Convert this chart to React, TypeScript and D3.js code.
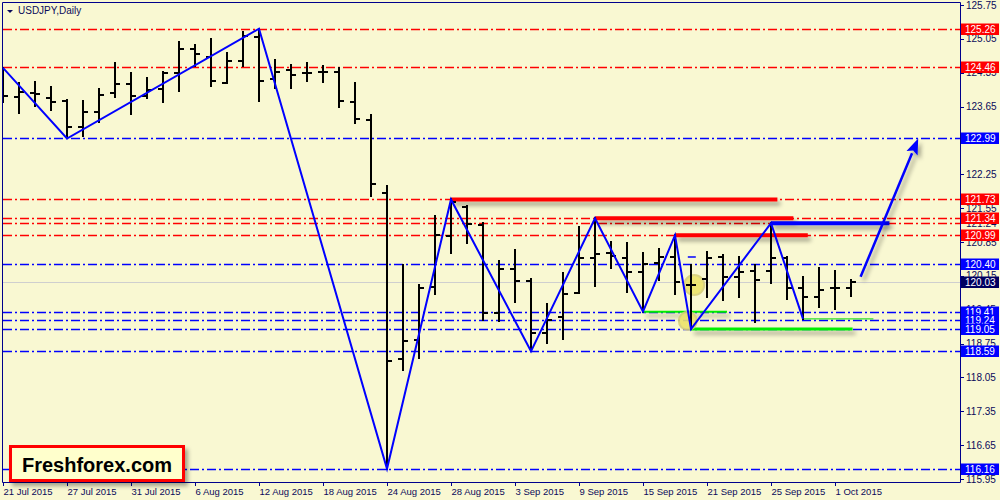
import { useEffect, useRef } from "react";
import * as d3 from "d3";

// daily bars, 21 Jul 2015 .. 2 Oct 2015
const opens = [
  124.2, 123.85, 123.93, 123.83, 123.77, 123.23, 123.54, 123.93, 124.12, 123.87,
  124.01, 124.34, 124.84, 124.67, 124.14, 124.59, 125.09, 124.22, 124.41, 124.34,
  124.36, 124.36, 123.74, 123.37, 121.86, 118.43, 118.82, 119.92, 120.97, 121.57,
  121.2, 119.38, 120.29, 120.04, 118.97, 119.3, 119.8, 120.52, 120.62, 120.52,
  120.23, 120.42, 120.54, 119.96, 120.09, 120.54, 120.13, 120.25, 120.25, 120.52,
  119.9, 119.71, 119.9, 119.9,
];
const highs = [
  124.45, 124.14, 124.16, 124.05, 123.79, 123.77, 124.01, 124.55, 124.34, 124.24,
  124.36, 124.99, 124.92, 125.05, 124.76, 125.19, 125.26, 124.61, 124.51, 124.55,
  124.49, 124.45, 124.14, 123.48, 122.01, 120.37, 119.96, 121.38, 121.73, 121.59,
  121.24, 120.46, 120.68, 120.08, 119.57, 120.21, 121.16, 121.34, 120.85, 120.83,
  120.62, 120.7, 120.99, 120.37, 120.64, 120.58, 120.54, 120.37, 121.24, 120.54,
  120.13, 120.31, 120.25, 120.06,
];
const lows = [
  123.74, 123.52, 123.66, 123.58, 122.99, 123.04, 123.33, 123.85, 123.5, 123.83,
  123.74, 123.97, 124.49, 124.08, 124.14, 124.49, 123.77, 124.03, 124.03, 124.18,
  124.16, 123.64, 123.31, 121.8, 116.16, 118.2, 118.45, 119.77, 120.62, 120.83,
  119.24, 119.22, 119.61, 118.59, 118.76, 118.84, 119.8, 119.94, 120.31, 119.82,
  119.41, 120.06, 119.77, 119.05, 119.71, 119.65, 119.71, 119.2, 120.0, 119.67,
  119.26, 119.51, 119.47, 119.73,
];
const closes = [
  123.87, 123.95, 123.91, 123.74, 123.23, 123.54, 123.89, 124.12, 123.87, 123.99,
  124.34, 124.84, 124.74, 124.18, 124.59, 125.11, 124.18, 124.36, 124.3, 124.34,
  124.36, 123.77, 123.39, 122.05, 118.39, 118.8, 119.9, 121.0, 121.68, 121.22,
  119.38, 120.29, 120.04, 118.97, 119.24, 119.77, 120.52, 120.6, 120.56, 120.23,
  120.39, 120.54, 120.02, 119.96, 120.52, 120.13, 120.23, 120.06, 120.52, 119.9,
  119.71, 119.86, 119.9, 120.03,
];

const dateLabels = [
  "21 Jul 2015", "27 Jul 2015", "31 Jul 2015", "6 Aug 2015", "12 Aug 2015",
  "18 Aug 2015", "24 Aug 2015", "28 Aug 2015", "3 Sep 2015", "9 Sep 2015",
  "15 Sep 2015", "21 Sep 2015", "25 Sep 2015", "1 Oct 2015",
];

const priceTicks = [
  125.75, 125.05, 124.35, 123.65, 122.95, 122.25, 121.55, 120.85, 120.15,
  119.45, 118.75, 118.05, 117.35, 116.65, 115.95,
];
const extraAxisLabels = [121.24];

const redLevels = [125.26, 124.46, 121.73, 121.34, 121.24, 120.99];
const redLabelLevels = [125.26, 124.46, 121.73, 121.34, 120.99];
const blueLevels = [122.99, 120.4, 119.41, 119.24, 119.05, 118.59, 116.16];
const bidPrice = 120.03;

// zigzag: bar index, price
const zigIdx = [0, 4, 16, 24, 28, 33, 37, 40, 42, 43, 48, 50];
const zigPrice = [124.45, 122.99, 125.26, 116.16, 121.73, 118.59, 121.34, 119.41, 120.99, 119.05, 121.24, 119.26];

// thick level segments: from bar, to bar, price
const segFrom = [28, 37, 42, 48, 40, 43, 50];
const segTo = [48.4, 49.4, 50.3, 55.4, 45.25, 53.1, 54.4];
const segPrice = [121.73, 121.34, 120.99, 121.24, 119.41, 119.05, 119.26];
const segColor = ["#ff0000", "#ff0000", "#ff0000", "#0000ff", "#00ee00", "#00ee00", "#00dd00"];
const segWidth = [4, 4, 4, 4, 2, 3, 1];

const arrowFrom = { i: 53.6, price: 120.13 };
const arrowTo = { i: 57.2, price: 122.99 };

export default function App() {
  const svgRef = useRef<SVGSVGElement>(null);

  useEffect(() => {
    document.body.style.margin = "0";
    if (!svgRef.current) return;
    const svg = d3.select(svgRef.current);
    svg.selectAll("*").remove();

    const bg = "#f9f8d2";
    const navy = "#00008c";
    const textCol = "#0a0a5a";
    const font = "'Liberation Sans', Arial, sans-serif";
    const axisX = 960;
    const plotBottom = 482;

    const x = d3.scaleLinear().domain([0, 1]).range([3, 19]);
    const y = d3.scaleLinear().domain([115.95, 125.75]).range([479, 5]);

    svg.append("rect").attr("width", 1000).attr("height", 500).attr("fill", bg);

    const defs = svg.append("defs");
    defs
      .append("clipPath")
      .attr("id", "plot-clip")
      .append("rect")
      .attr("x", 3)
      .attr("y", 3)
      .attr("width", axisX - 3)
      .attr("height", plotBottom - 3);
    const sh = defs
      .append("filter")
      .attr("id", "shadow")
      .attr("filterUnits", "userSpaceOnUse")
      .attr("x", 0)
      .attr("y", 0)
      .attr("width", 1000)
      .attr("height", 500);
    sh.append("feDropShadow")
      .attr("dx", 3)
      .attr("dy", 4)
      .attr("stdDeviation", 2)
      .attr("flood-color", "#000")
      .attr("flood-opacity", 0.35);

    const plot = svg.append("g").attr("clip-path", "url(#plot-clip)");

    // bid line
    plot
      .append("line")
      .attr("x1", 3)
      .attr("x2", axisX)
      .attr("y1", Math.round(y(bidPrice)) + 0.5)
      .attr("y2", Math.round(y(bidPrice)) + 0.5)
      .attr("stroke", "#cfcfcf");

    // dash-dot levels
    const levelLine = (vals: number[], color: string, w: number) =>
      plot
        .append("g")
        .selectAll("line")
        .data(vals)
        .enter()
        .append("line")
        .attr("x1", 3)
        .attr("x2", axisX)
        .attr("y1", (d) => Math.round(y(d)) + 0.5)
        .attr("y2", (d) => Math.round(y(d)) + 0.5)
        .attr("stroke", color)
        .attr("stroke-width", w)
        .attr("stroke-dasharray", "9,3,2,3");
    levelLine(redLevels, "#ff0000", 1.5);
    levelLine(blueLevels, "#0000ff", 1.5);

    // thick segments
    plot
      .append("g")
      .selectAll("line")
      .data(segPrice.map((p, k) => k))
      .enter()
      .append("line")
      .attr("x1", (k) => x(segFrom[k]))
      .attr("x2", (k) => x(segTo[k]))
      .attr("y1", (k) => y(segPrice[k]))
      .attr("y2", (k) => y(segPrice[k]))
      .attr("stroke", (k) => segColor[k])
      .attr("stroke-width", (k) => segWidth[k])
      .attr("filter", (k) => (segWidth[k] > 1 ? "url(#shadow)" : null));

    // trade markers
    const marks = [
      { i: 43.2, price: 119.96, r: 10 },
      { i: 42.8, price: 119.22, r: 9 },
    ];
    plot
      .append("g")
      .selectAll("circle")
      .data(marks)
      .enter()
      .append("circle")
      .attr("cx", (d) => x(d.i))
      .attr("cy", (d) => y(d.price))
      .attr("r", (d) => d.r)
      .attr("fill", "#ece46a")
      .attr("stroke", "#d6cf7a")
      .attr("stroke-width", 2)
      .attr("opacity", 0.9);
    plot
      .append("line")
      .attr("x1", x(42.8))
      .attr("x2", x(43.3))
      .attr("y1", y(120.54))
      .attr("y2", y(120.54))
      .attr("stroke", "#0000ff")
      .attr("stroke-width", 1.5);

    // OHLC bars
    const bars = plot.append("g").attr("stroke", "#000").attr("stroke-width", 2).attr("shape-rendering", "crispEdges");
    opens.forEach((o, i) => {
      const cx = x(i);
      bars.append("line").attr("x1", cx).attr("x2", cx).attr("y1", y(highs[i]) - 1).attr("y2", y(lows[i]) + 1);
      bars.append("line").attr("x1", cx - 5).attr("x2", cx).attr("y1", y(o)).attr("y2", y(o));
      bars.append("line").attr("x1", cx).attr("x2", cx + 5).attr("y1", y(closes[i])).attr("y2", y(closes[i]));
    });

    // zigzag
    const line = d3
      .line<number>()
      .x((k) => x(zigIdx[k]))
      .y((k) => y(zigPrice[k]));
    plot
      .append("path")
      .attr("d", line(zigIdx.map((_, k) => k)))
      .attr("fill", "none")
      .attr("stroke", "#0000ff")
      .attr("stroke-width", 2);

    // arrow
    const ax1 = x(arrowFrom.i), ay1 = y(arrowFrom.price);
    const ax2 = x(arrowTo.i), ay2 = y(arrowTo.price);
    const ang = Math.atan2(ay2 - ay1, ax2 - ax1);
    const hl = 16, hw = 6;
    const bx = ax2 - hl * Math.cos(ang), by = ay2 - hl * Math.sin(ang);
    const arrow = plot.append("g").attr("filter", "url(#shadow)");
    arrow
      .append("line")
      .attr("x1", ax1)
      .attr("y1", ay1)
      .attr("x2", bx)
      .attr("y2", by)
      .attr("stroke", "#0000ff")
      .attr("stroke-width", 2.5);
    arrow
      .append("path")
      .attr(
        "d",
        `M${ax2},${ay2}L${bx - hw * Math.sin(ang)},${by + hw * Math.cos(ang)}L${bx + 3 * Math.cos(ang)},${by + 3 * Math.sin(ang)}L${bx + hw * Math.sin(ang)},${by - hw * Math.cos(ang)}Z`
      )
      .attr("fill", "#0000ff");

    // frame
    svg
      .append("path")
      .attr("d", `M2.5,${plotBottom + 0.5}V2.5H${axisX + 0.5}V${plotBottom + 0.5}H2.5`)
      .attr("fill", "none")
      .attr("stroke", navy);

    // price axis ticks + labels
    const axis = svg.append("g");
    axis
      .selectAll("line")
      .data(priceTicks)
      .enter()
      .append("line")
      .attr("x1", axisX)
      .attr("x2", axisX + 4)
      .attr("y1", (d) => Math.round(y(d)) + 0.5)
      .attr("y2", (d) => Math.round(y(d)) + 0.5)
      .attr("stroke", navy);
    axis
      .selectAll("text")
      .data([...priceTicks, ...extraAxisLabels])
      .enter()
      .append("text")
      .attr("x", 966)
      .attr("y", (d) => y(d))
      .attr("dy", "0.35em")
      .attr("font-family", font)
      .attr("font-size", 10)
      .attr("fill", textCol)
      .text((d) => d.toFixed(2));

    // level label boxes
    const boxes = [
      ...redLabelLevels.map((p) => ({ p, c: "#ff0000" })),
      ...blueLevels.map((p) => ({ p, c: "#0000ff" })),
      { p: bidPrice, c: "#000060" },
    ].sort((a, b) => b.p - a.p);
    const bg2 = svg.append("g");
    boxes.forEach((b) => {
      const yy = Math.round(y(b.p));
      bg2.append("rect").attr("x", 961).attr("y", yy - 5.5).attr("width", 38).attr("height", 11.5).attr("fill", b.c);
      bg2
        .append("text")
        .attr("x", 965)
        .attr("y", yy)
        .attr("dy", "0.38em")
        .attr("font-family", font)
        .attr("font-size", 10)
        .attr("fill", "#fff")
        .text(b.p.toFixed(2));
    });

    // date axis
    const dAxis = svg.append("g");
    dateLabels.forEach((lab, k) => {
      const tx = Math.round(x(k * 4)) + 0.5;
      dAxis.append("line").attr("x1", tx).attr("x2", tx).attr("y1", plotBottom).attr("y2", plotBottom + 4).attr("stroke", navy);
      dAxis
        .append("text")
        .attr("x", tx)
        .attr("y", 495)
        .attr("font-family", font)
        .attr("font-size", 9.5)
        .attr("fill", textCol)
        .text(lab);
    });

    // title
    svg.append("path").attr("d", "M7,10H13L10,13Z").attr("fill", textCol);
    svg
      .append("text")
      .attr("x", 18)
      .attr("y", 14)
      .attr("font-family", font)
      .attr("font-size", 10)
      .attr("fill", textCol)
      .text("USDJPY,Daily");

    // watermark box
    const wm = svg.append("g");
    wm.append("rect")
      .attr("x", 10.5)
      .attr("y", 446.5)
      .attr("width", 173)
      .attr("height", 34)
      .attr("fill", "#ffffcc")
      .attr("stroke", "#ff0000")
      .attr("stroke-width", 3)
      .attr("filter", "url(#shadow)");
    wm.append("text")
      .attr("x", 22)
      .attr("y", 472)
      .attr("font-family", font)
      .attr("font-weight", "bold")
      .attr("font-size", 20)
      .attr("fill", "#000")
      .text("Freshforex.com");
  }, []);

  return <svg ref={svgRef} width={1000} height={500} style={{ display: "block" }} />;
}
